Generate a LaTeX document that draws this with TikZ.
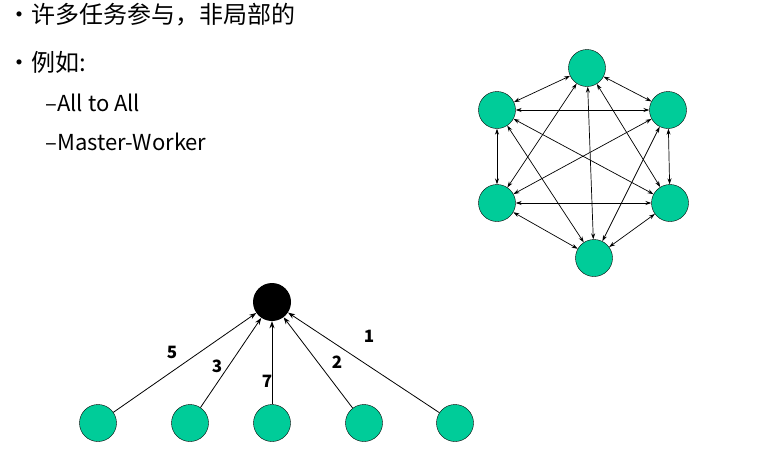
\documentclass[tikz,border=0pt]{standalone}
\usepackage{fontspec}
\setmainfont{Noto Sans CJK SC}
\usetikzlibrary{arrows.meta}
\definecolor{nodegreen}{RGB}{0,204,153}
\begin{document}
\begin{tikzpicture}[x=1pt,y=-1pt,
  worker/.style={circle,draw=black,fill=nodegreen,minimum size=37pt,inner sep=0pt},
  master/.style={circle,fill=black,minimum size=38pt,inner sep=0pt},
  link/.style={{Stealth[length=6pt,width=4pt]}-{Stealth[length=6pt,width=4pt]},line width=0.7pt},
  send/.style={-{Stealth[length=7pt,width=5pt]},line width=0.8pt},
  lab/.style={font=\fontsize{17}{19}\selectfont\bfseries}]
\useasboundingbox (0,0) rectangle (779,448);
%
% Texte :
\node[anchor=west,font=\fontsize{24}{28}\selectfont] (t1) at (4,15) {•许多任务参与，非局部的};
\node[anchor=west,font=\fontsize{24}{28}\selectfont] (t2) at (4,62) {•例如:};
\node[anchor=west,font=\fontsize{22}{26}\selectfont] (t3) at (42,103) {–All to All};
\node[anchor=west,font=\fontsize{22}{26}\selectfont] (t4) at (42,142) {–Master-Worker};
%
% All to All :
\node[worker] (a1) at (587,68) {};
\node[worker] (a2) at (668,110) {};
\node[worker] (a3) at (670,203) {};
\node[worker] (a4) at (594,258) {};
\node[worker] (a5) at (497,203) {};
\node[worker] (a6) at (497,110) {};
\foreach \i in {1,...,5}{
  \pgfmathtruncatemacro{\next}{\i+1}
  \foreach \j in {\next,...,6}
    \draw[link] (a\i) -- (a\j);
}
%
% Master-Worker :
\node[master] (m) at (272,302) {};
\node[worker] (w1) at (98,423) {};
\node[worker] (w2) at (190,423) {};
\node[worker] (w3) at (272,423) {};
\node[worker] (w4) at (364,423) {};
\node[worker] (w5) at (455,423) {};
\draw[send] (w1) -- (m);
\draw[send] (w2) -- (m);
\draw[send] (w3) -- (m);
\draw[send] (w4) -- (m);
\draw[send] (w5) -- (m);
% Etiquettes :
\node[lab] (l5) at (172,352) {5};
\node[lab] (l3) at (217,366) {3};
\node[lab] (l7) at (267,381) {7};
\node[lab] (l2) at (337,362) {2};
\node[lab] (l1) at (369,336) {1};
\end{tikzpicture}
\end{document}
